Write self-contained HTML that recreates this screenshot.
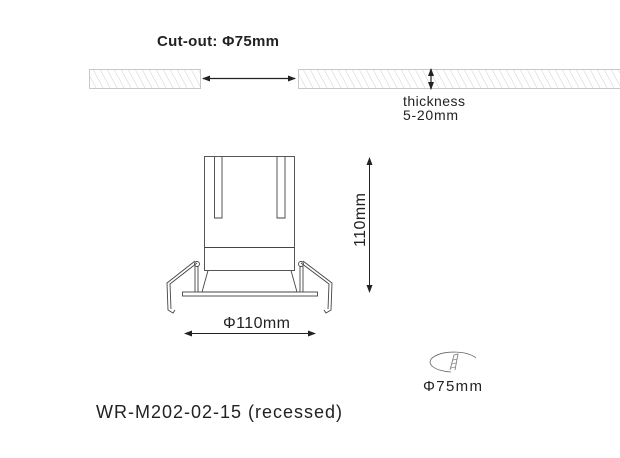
<!DOCTYPE html>
<html><head><meta charset="utf-8"><style>
html,body{margin:0;padding:0;background:#fff;width:620px;height:458px;overflow:hidden}
text{font-family:"Liberation Sans",Arial,sans-serif;fill:#222}
</style></head><body>
<svg width="620" height="458" viewBox="0 0 620 458" xmlns="http://www.w3.org/2000/svg">
<defs>
<pattern id="h" width="7" height="20" patternUnits="userSpaceOnUse" patternTransform="skewX(28)">
<line x1="0" y1="0" x2="0" y2="20" stroke="#bbb" stroke-width="0.8"/>
</pattern>
<marker id="a" markerWidth="8" markerHeight="6" refX="7" refY="3" orient="auto-start-reverse" markerUnits="userSpaceOnUse">
<path d="M0,0 L8,3 L0,6 Z" fill="#222"/></marker>
</defs>
<text x="157" y="46" font-size="15" font-weight="bold" textLength="122">Cut-out: Φ75mm</text>
<rect x="89.5" y="69.5" width="111" height="19" fill="url(#h)" stroke="#bbb" stroke-width="0.8"/>
<rect x="298.5" y="69.5" width="330" height="19" fill="url(#h)" stroke="#bbb" stroke-width="0.8"/>
<line x1="203" y1="78.5" x2="295" y2="78.5" stroke="#222" stroke-width="1.2" marker-start="url(#a)" marker-end="url(#a)"/>
<line x1="431" y1="69" x2="431" y2="89" stroke="#222" stroke-width="1.2" marker-start="url(#a)" marker-end="url(#a)"/>
<text x="403" y="106" font-size="14" textLength="62">thickness</text>
<text x="403" y="120" font-size="14" textLength="55">5-20mm</text>

<g fill="none" stroke="#444" stroke-width="0.9">
<rect x="204.5" y="156.5" width="90" height="91"/>
<polyline points="214.5,157 214.5,218 222,218 222,157"/>
<polyline points="277,157 277,218 285,218 285,157"/>
<rect x="204.5" y="247.5" width="90" height="23"/>
<polyline points="208,270.5 202,292 297,292 291,270.5"/>
<rect x="182.5" y="292" width="135" height="4"/>
<circle cx="197" cy="264" r="2.5"/>
<circle cx="301" cy="264" r="2.5"/>
<line x1="195" y1="266" x2="195" y2="292"/>
<line x1="198" y1="266" x2="198" y2="292"/>
<line x1="300" y1="266" x2="300" y2="292"/>
<line x1="303" y1="266" x2="303" y2="292"/>
<polyline points="195,261 167,283 168,310 173,313 175,310"/>
<polyline points="197,263 170,284 171,309"/>
<polyline points="303,261 332,283 331,310 326,313 324,310"/>
<polyline points="301,263 329,284 328,309"/>
</g>
<line x1="185" y1="333.5" x2="315" y2="333.5" stroke="#222" stroke-width="1" marker-start="url(#a)" marker-end="url(#a)"/>
<text x="223" y="328" font-size="16" textLength="67">Φ110mm</text>
<line x1="369.5" y1="158" x2="369.5" y2="292" stroke="#222" stroke-width="1" marker-start="url(#a)" marker-end="url(#a)"/>
<text transform="translate(365,247) rotate(-90)" font-size="16" textLength="54">110mm</text>

<path d="M476,358 A24,10 0 1 0 451,372" fill="none" stroke="#666" stroke-width="0.8"/>
<path d="M450,370 L454,355 L458,354 L455,370" fill="none" stroke="#777" stroke-width="0.8"/>
<path d="M453,360 l4,-1 M452,364 l4,-1 M451,368 l4,-1" stroke="#888" stroke-width="0.7"/>
<text x="423" y="391" font-size="15" textLength="59">Φ75mm</text>
<text x="96" y="418" font-size="18" textLength="246">WR-M202-02-15  (recessed)</text>
</svg>
</body></html>
